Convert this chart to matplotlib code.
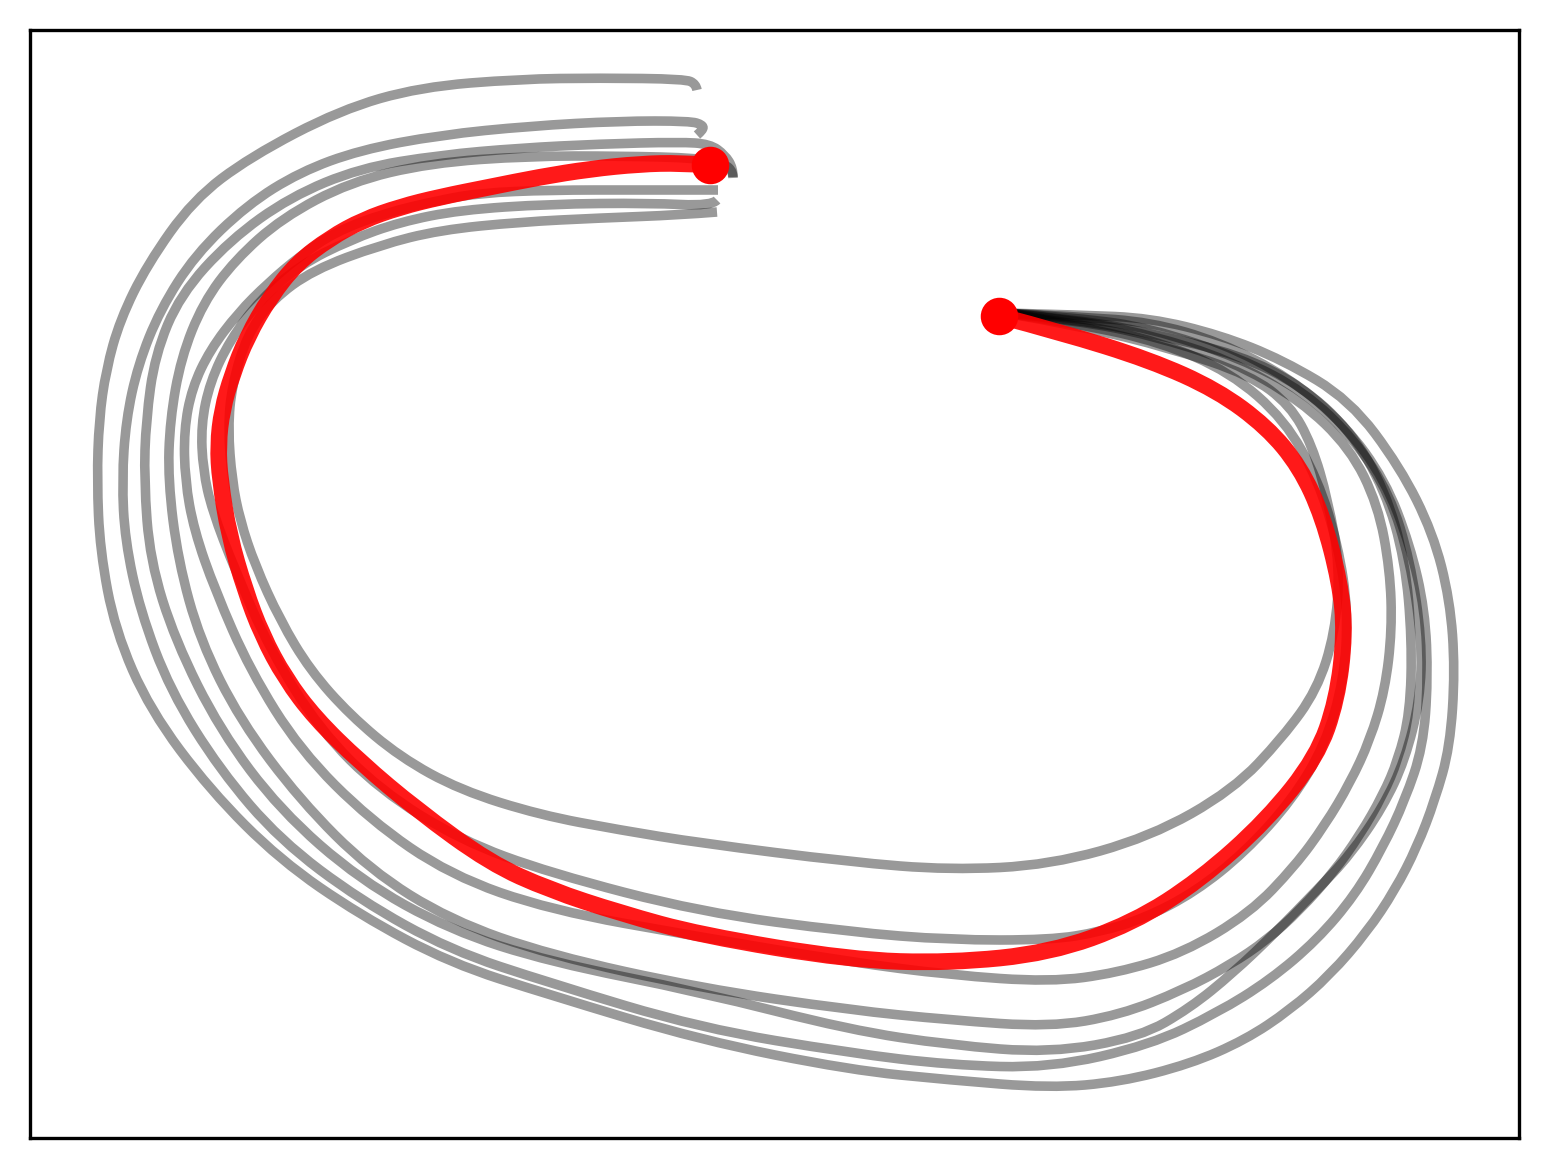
import numpy as np
import matplotlib
matplotlib.use("Agg")
import matplotlib.pyplot as plt
from matplotlib.path import Path
from matplotlib.patches import PathPatch

# Trazos de pluma (x, y); y crece hacia abajo
stroke_a = [(1005, 313), (1080, 315), (1150, 318), (1220, 335), (1283, 360), (1350, 400),
            (1400, 467), (1433, 533), (1450, 600), (1455, 670), (1450, 747), (1435, 800),
            (1417, 847), (1395, 890), (1367, 932), (1330, 975), (1290, 1010), (1245, 1040),
            (1190, 1064), (1120, 1082), (1050, 1088), (950, 1080), (850, 1070), (700, 1040),
            (550, 995), (450, 963), (360, 915), (280, 860), (210, 790), (150, 710), (115, 630),
            (100, 550), (97, 480), (99, 420), (106, 370), (120, 320), (147, 265), (193, 200),
            (250, 157), (340, 110), (420, 87), (520, 79), (600, 78), (685, 79), (696, 84),
            (697, 90)]

stroke_b = [(1005, 313), (1080, 317), (1150, 322), (1220, 342), (1290, 378), (1345, 425),
            (1385, 480), (1410, 545), (1425, 610), (1428, 680), (1423, 747), (1405, 800),
            (1383, 847), (1355, 895), (1317, 940), (1270, 980), (1217, 1013), (1150, 1045),
            (1050, 1068), (950, 1065), (850, 1053), (700, 1028), (550, 983), (450, 950),
            (360, 900), (280, 840), (220, 770), (170, 690), (140, 610), (125, 540), (122, 480),
            (126, 420), (138, 365), (160, 310), (195, 255), (247, 205), (300, 172), (360, 150),
            (440, 135), (530, 126), (620, 121), (690, 121), (703, 125), (703, 130), (697, 135)]

stroke_c = [(1005, 313), (1080, 318), (1150, 328), (1240, 358), (1305, 392), (1355, 440),
            (1390, 495), (1410, 560), (1422, 640), (1420, 700), (1405, 760), (1383, 807),
            (1350, 855), (1317, 890), (1275, 933), (1233, 973), (1190, 1008), (1140, 1037),
            (1050, 1053), (950, 1045), (850, 1030), (700, 992), (550, 962), (450, 930),
            (360, 880), (280, 810), (220, 730), (175, 640), (150, 560), (144, 480), (146, 420),
            (155, 355), (180, 295), (230, 240), (290, 197), (360, 168), (440, 155), (520, 148),
            (600, 144), (680, 142), (710, 144), (725, 155), (733, 168), (733, 177)]

stroke_d = [(1005, 313), (1080, 320), (1150, 333), (1240, 355), (1300, 385), (1350, 430),
            (1385, 490), (1405, 560), (1412, 640), (1410, 713), (1398, 760), (1383, 795),
            (1360, 835), (1333, 873), (1300, 910), (1267, 940), (1230, 965), (1183, 990),
            (1120, 1015), (1050, 1027), (950, 1020), (850, 1010), (700, 988), (550, 955),
            (450, 920), (370, 870), (300, 800), (240, 720), (200, 640), (178, 560), (168, 480),
            (170, 420), (181, 358), (203, 303), (235, 260), (282, 218), (350, 182), (430, 163),
            (530, 156), (620, 156), (700, 158), (725, 164), (733, 172), (733, 178)]

stroke_e = [(1005, 313), (1080, 321), (1150, 335), (1230, 360), (1300, 400), (1350, 448),
            (1378, 505), (1390, 570), (1392, 630), (1385, 690), (1370, 740), (1350, 783),
            (1325, 825), (1295, 866), (1250, 913), (1183, 953), (1117, 973), (1050, 982),
            (950, 975), (850, 962), (700, 937), (550, 910), (450, 875), (370, 820), (300, 750),
            (250, 670), (215, 590), (194, 530), (185, 480), (184, 430), (192, 388), (210, 350),
            (238, 313), (268, 283), (300, 256), (335, 232), (385, 213), (440, 200), (480, 193),
            (550, 190), (640, 190), (718, 190)]

stroke_f = [(1005, 313), (1080, 324), (1160, 342), (1230, 372), (1285, 420), (1318, 480),
            (1338, 545), (1348, 610), (1344, 680), (1325, 745), (1292, 800), (1245, 852),
            (1195, 892), (1145, 918), (1100, 932), (1050, 940), (950, 940), (850, 932),
            (700, 912), (550, 873), (460, 840), (380, 790), (320, 730), (270, 650), (235, 570),
            (212, 510), (203, 470), (201, 425), (210, 382), (230, 340), (260, 300), (300, 265),
            (350, 240), (400, 222), (460, 210), (550, 204), (650, 203), (712, 206), (717, 200)]

stroke_g = [(1005, 313), (1080, 326), (1170, 348), (1250, 375), (1290, 405), (1312, 445),
            (1328, 500), (1340, 567), (1335, 633), (1317, 690), (1283, 737), (1233, 790),
            (1150, 837), (1050, 865), (950, 870), (850, 862), (700, 843), (620, 830), (540, 815),
            (460, 790), (400, 757), (350, 715), (310, 670), (280, 620), (255, 565), (240, 520),
            (232, 480), (228, 428), (232, 385), (247, 335), (272, 300), (313, 270), (380, 245),
            (440, 230), (520, 222), (600, 218), (680, 215), (717, 212)]

# Trazo destacado (en rojo)
stroke_red = [(999, 316), (1060, 332), (1150, 360), (1217, 390), (1267, 427), (1300, 467),
              (1323, 517), (1340, 583), (1345, 633), (1337, 700), (1317, 757), (1267, 820),
              (1200, 880), (1133, 923), (1050, 953), (950, 963), (850, 960), (700, 935),
              (620, 913), (550, 890), (490, 863), (417, 810), (360, 762), (315, 718), (285, 678),
              (262, 635), (245, 590), (229, 535), (220, 480), (218, 445), (222, 410), (232, 375),
              (247, 337), (270, 297), (297, 263), (330, 238), (363, 220), (400, 207), (440, 197),
              (490, 187), (540, 177), (590, 169), (640, 164), (680, 163), (710, 165)]

gray_strokes = [stroke_a, stroke_b, stroke_c, stroke_d, stroke_e, stroke_f, stroke_g]


def smooth_path(points):
    # curva cuadrática por los puntos medios (los puntos leídos actúan de control)
    p = np.array(points, dtype=float)
    verts = [p[0]]
    codes = [Path.MOVETO]
    for i in range(1, len(p) - 2):
        verts += [p[i], (p[i] + p[i + 1]) / 2]
        codes += [Path.CURVE3, Path.CURVE3]
    verts += [p[-2], p[-1]]
    codes += [Path.CURVE3, Path.CURVE3]
    return Path(verts, codes)


W, H, DPI = 1548, 1168, 300
fig = plt.figure(figsize=(W / DPI, H / DPI), dpi=DPI)
ax = fig.add_axes([30 / W, 30 / H, 1489 / W, 1108 / H])

for s in gray_strokes:
    ax.add_patch(PathPatch(smooth_path(s), fill=False, edgecolor='black', alpha=0.4,
                           linewidth=2.3, capstyle='butt', joinstyle='round'))

ax.add_patch(PathPatch(smooth_path(stroke_red), fill=False, edgecolor='red', alpha=0.9,
                       linewidth=4.0, capstyle='butt', joinstyle='round'))
red = np.array(stroke_red)
ax.plot(red[[0, -1], 0], red[[0, -1], 1], 'o', color='red', markersize=8)

ax.set_xlim(30, 1519)
ax.set_ylim(1138, 30)
ax.set_xticks([])
ax.set_yticks([])

fig.savefig("out.png", dpi=DPI)
plt.close(fig)
